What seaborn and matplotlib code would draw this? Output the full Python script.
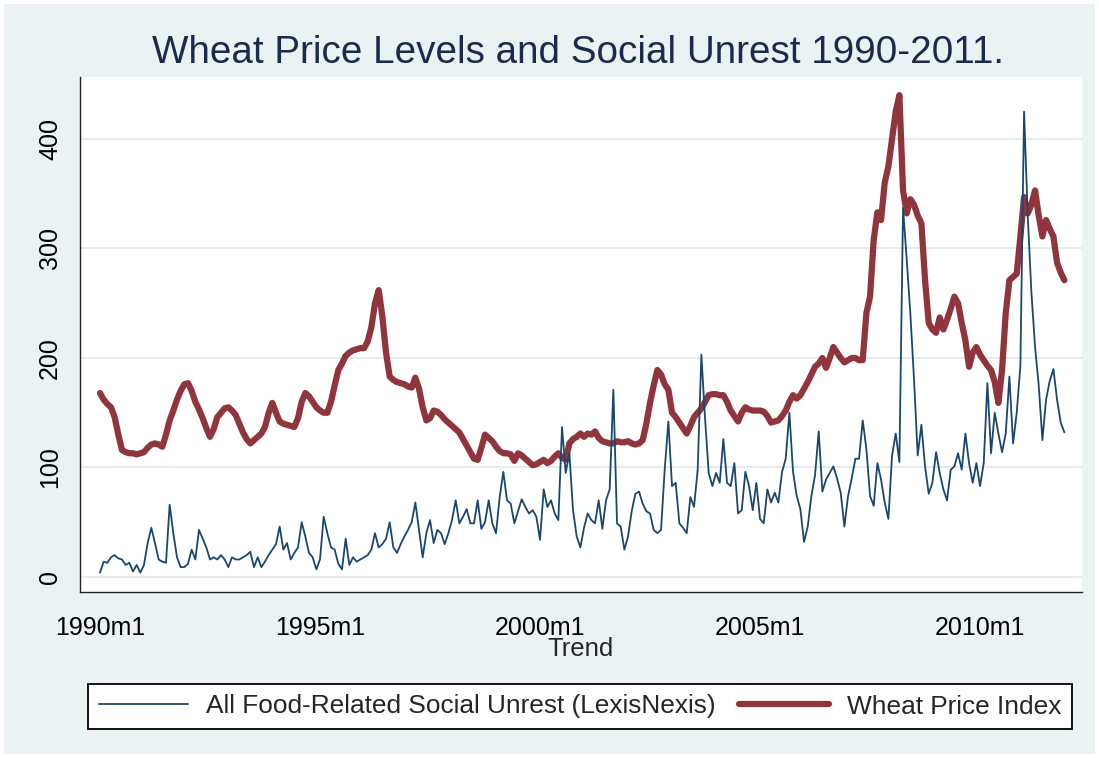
import matplotlib
matplotlib.use('Agg')
import matplotlib.pyplot as plt
from matplotlib.patches import Rectangle
import numpy as np
import pandas as pd
import seaborn as sns

# Monthly values 1990m1 - 2011m12, one row per year
unrest = [
    4, 14, 13, 18, 20, 17, 16, 11, 13, 5, 11, 4,
    11, 31, 45, 31, 16, 14, 13, 66, 40, 18, 9, 9,
    12, 25, 16, 43, 35, 27, 16, 18, 16, 20, 16, 9,
    18, 16, 16, 18, 20, 23, 9, 18, 9, 14, 20, 25,
    30, 46, 25, 31, 16, 22, 27, 50, 37, 22, 18, 7,
    16, 55, 40, 27, 25, 12, 7, 35, 11, 18, 14, 16,
    18, 20, 25, 40, 27, 30, 35, 50, 27, 22, 30, 37,
    43, 50, 68, 43, 18, 40, 52, 31, 43, 40, 30, 40,
    52, 70, 49, 55, 62, 49, 49, 70, 44, 50, 70, 49,
    40, 73, 96, 70, 67, 49, 60, 71, 64, 58, 61, 55,
    34, 80, 64, 70, 58, 52, 137, 95, 113, 61, 37, 27,
    45, 58, 52, 49, 70, 44, 70, 80, 171, 49, 46, 25,
    37, 60, 76, 78, 67, 60, 58, 43, 40, 43, 98, 142,
    83, 86, 49, 45, 40, 73, 64, 98, 203, 145, 95, 83,
    95, 86, 126, 86, 83, 104, 58, 61, 96, 83, 61, 86,
    53, 49, 80, 68, 77, 68, 96, 108, 150, 96, 74, 62,
    32, 46, 74, 93, 133, 78, 89, 95, 101, 90, 77, 46,
    74, 90, 108, 108, 143, 117, 74, 65, 104, 89, 68, 53,
    111, 131, 105, 337, 290, 240, 180, 111, 139, 101, 76, 86,
    114, 95, 80, 70, 98, 101, 113, 98, 131, 104, 86, 104,
    83, 104, 177, 113, 150, 131, 114, 131, 183, 122, 150, 193,
    425, 330, 260, 210, 175, 125, 162, 179, 190, 162, 141, 132,
]

wheat = [
    168, 162, 158, 155, 146, 130, 116, 114, 113, 113, 112, 113,
    114, 118, 121, 122, 121, 119, 130, 143, 152, 162, 170, 176,
    177, 170, 160, 153, 145, 136, 128, 135, 146, 150, 154, 155,
    152, 148, 140, 132, 126, 122, 125, 128, 131, 137, 150, 159,
    150, 142, 140, 139, 138, 137, 145, 160, 168, 165, 160, 155,
    152, 150, 150, 160, 175, 189, 195, 202, 205, 207, 208, 209,
    209, 215, 228, 250, 262, 238, 205, 183, 180, 178, 177, 176,
    174, 173, 182, 172, 155, 143, 145, 152, 151, 148, 144, 141,
    138, 135, 132, 126, 120, 114, 108, 107, 118, 130, 127, 124,
    119, 115, 113, 113, 112, 106, 113, 111, 108, 105, 102, 103,
    105, 107, 104, 106, 110, 113, 109, 107, 122, 126, 128, 131,
    128, 131, 130, 133, 127, 124, 123, 122, 122, 124, 123, 123,
    124, 122, 121, 122, 125, 140, 159, 175, 189, 185, 176, 171,
    150, 146, 141, 136, 131, 138, 146, 150, 154, 160, 166, 167,
    167, 166, 166, 160, 152, 147, 142, 150, 155, 153, 152, 152,
    152, 151, 147, 141, 142, 143, 147, 152, 160, 166, 163, 166,
    172, 178, 185, 192, 195, 200, 191, 200, 210, 205, 200, 196,
    198, 200, 200, 198, 198, 241, 256, 308, 333, 326, 360, 375,
    400, 425, 440, 353, 332, 345, 340, 330, 323, 271, 232, 226,
    223, 237, 226, 235, 245, 256, 250, 232, 216, 192, 205, 210,
    203, 198, 193, 189, 178, 159, 189, 241, 271, 274, 277, 311,
    347, 332, 340, 353, 330, 311, 326, 318, 311, 287, 278, 271,
]

tick_months = [0, 60, 120, 180, 240]
tick_labels = ['1990m1', '1995m1', '2000m1', '2005m1', '2010m1']

df = pd.DataFrame({'month': np.arange(len(wheat)), 'unrest': unrest, 'wheat': wheat})

sns.set_style('white')
plt.rcParams['font.family'] = ['Liberation Sans', 'DejaVu Sans']

bg = '#EAF2F3'
navy = '#1A476F'
maroon = '#90353B'

fig = plt.figure(figsize=(10.99, 7.58), dpi=100)
fig.patch.set_facecolor('white')
fig.patches.append(Rectangle((4 / 1099, 4 / 758), 1 - 8 / 1099, 1 - 8 / 758,
                             transform=fig.transFigure, facecolor=bg,
                             edgecolor='none', zorder=-5))

ax = fig.add_axes([80 / 1099, 1 - 592 / 758, 1002 / 1099, 515 / 758])
ax.set_zorder(2)
ax.set_facecolor('white')

sns.lineplot(data=df, x='month', y='unrest', ax=ax, color=navy, lw=1.3,
             label='All Food-Related Social Unrest (LexisNexis)', zorder=3)
sns.lineplot(data=df, x='month', y='wheat', ax=ax, color=maroon, lw=4.5,
             label='Wheat Price Index', zorder=2)

ax.set_xlim(-5.45, 267.8)
ax.set_ylim(-13.7, 456.6)
ax.set_yticks([0, 100, 200, 300, 400])
ax.set_xticks(tick_months)
ax.set_xticklabels(tick_labels)
ax.grid(axis='y', color='#E3ECEE', lw=1.4)
ax.grid(axis='x', visible=False)
ax.set_axisbelow(True)

for s in ['top', 'right']:
    ax.spines[s].set_visible(False)
for s in ['left', 'bottom']:
    ax.spines[s].set_color('#222222')
    ax.spines[s].set_linewidth(1.0)

ax.tick_params(axis='both', which='major', direction='out', length=7, width=1.0,
               color='#222222', labelsize=18, labelcolor='black')
ax.tick_params(axis='y', pad=6)
ax.tick_params(axis='x', pad=10)
for lab in ax.get_yticklabels():
    lab.set_rotation(90)
    lab.set_va('center')

ax.set_ylabel('')
ax.set_xlabel('Trend', fontsize=18.5, labelpad=-2)

fig.text(0.5255, 1 - 63 / 758, 'Wheat Price Levels and Social Unrest 1990-2011.',
         ha='center', va='baseline', fontsize=27.8, color='#1B2A4E')

handles, labels = ax.get_legend_handles_labels()
ax.get_legend().remove()
leg = fig.legend(handles, labels, loc='center', bbox_to_anchor=(0.5278, 1 - 706.5 / 758),
                 ncol=2, fontsize=18.9, frameon=True, fancybox=False, framealpha=1,
                 edgecolor='black', handlelength=3.4, handletextpad=0.7,
                 columnspacing=0.9, borderpad=0.4)
leg.get_frame().set_linewidth(1.3)
leg.set_zorder(3)

fig.savefig('out.png', dpi=100, facecolor=fig.get_facecolor())
